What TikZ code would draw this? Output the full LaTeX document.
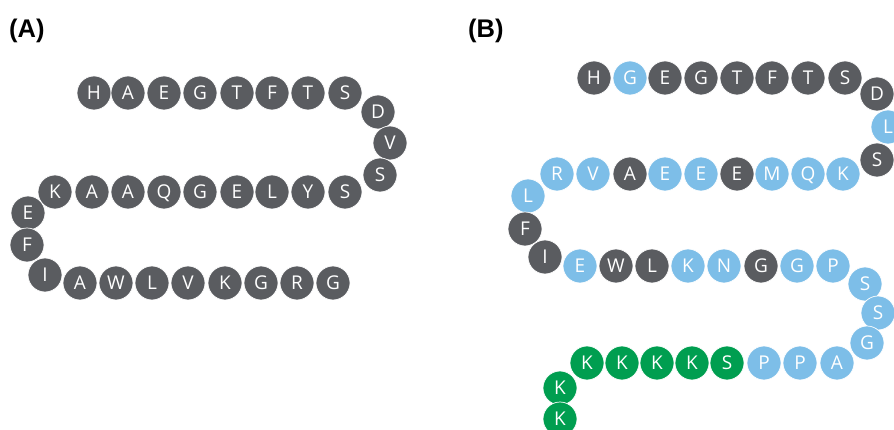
\documentclass[tikz,border=0pt]{standalone}
\usepackage{fontspec}
\setmainfont{Open Sans}
\newfontfamily\labelfont{Liberation Sans}
\definecolor{dk}{RGB}{90,92,96}
\definecolor{bl}{RGB}{125,190,232}
\definecolor{gr}{RGB}{0,158,80}
\tikzset{
  res/.style={circle,minimum size=34pt,inner sep=0pt,draw=white,line width=0.7pt,
    text=white,font=\fontsize{19}{19}\selectfont,text height=13.6pt,text depth=0pt},
  panellabel/.style={anchor=base west,inner sep=0pt,font=\labelfont\bfseries\fontsize{25.5}{25.5}\selectfont}
}
\begin{document}
\begin{tikzpicture}[x=1pt,y=-1pt]
\useasboundingbox (0,0) rectangle (894,430);
\node[panellabel] (labA) at (9,38) {(A)};
\node[panellabel] (labB) at (468,38) {(B)};
% Panel A
\foreach \n/\x/\y/\t in {
 a1/94/93/H, a2/128/93/A, a3/164/93/E, a4/200/93/G, a5/237/93/T, a6/272/93/F, a7/308/93/T, a8/345/93/S,
 a9/378/112/D, a10/390/143/V, a11/380/175/S,
 a12/345/192/S, a13/308/192/Y, a14/272/192/L, a15/237/192/E, a16/200/192/G, a17/164/192/Q, a18/128/192/A, a19/92/192/A, a20/55/192/K,
 a21/28/213/E, a22/27/245/F, a23/45/275/I,
 a24/80/283/A, a25/116/283/W, a26/152/283/L, a27/188/283/V, a28/225/283/K, a29/261/283/G, a30/297/283/R, a31/333/283/G}
 \node[res,fill=dk] (\n) at (\x,\y) {\t};
% Panel B
\foreach \n/\x/\y/\t/\c in {
 b1/594/78/H/dk, b2/630/78/G/bl, b3/665/78/E/dk, b4/701/78/G/dk, b5/737/78/T/dk, b6/772/78/F/dk, b7/808/78/T/dk, b8/845/78/S/dk,
 b9/877/94/D/dk, b10/888/127/L/bl, b11/877/160/S/dk,
 b12/843/174/K/bl, b13/808/174/Q/bl, b14/772/174/M/bl, b15/737/174/E/dk, b16/701/174/E/bl, b17/665/174/E/bl, b18/630/174/A/dk, b19/593/174/V/bl, b20/557/174/R/bl,
 b21/528/196/L/bl, b22/525/229/F/dk, b23/545/257/I/dk,
 b24/580/266/E/bl, b25/616/266/W/dk, b26/652/266/L/dk, b27/688/266/K/bl, b28/724/266/N/bl, b29/761/266/G/dk, b30/797/266/G/bl, b31/833/266/P/bl,
 b32/865/284/S/bl, b33/878/313/S/bl, b34/867/343/G/bl,
 b35/837/363/A/bl, b36/800/363/P/bl, b37/764/363/P/bl, b38/727/363/S/gr, b39/692/363/K/gr, b40/657/363/K/gr, b41/622/363/K/gr, b42/587/363/K/gr,
 b43/560/388/K/gr, b44/560/419/K/gr}
 \node[res,fill=\c] (\n) at (\x,\y) {\t};
\end{tikzpicture}
\end{document}
